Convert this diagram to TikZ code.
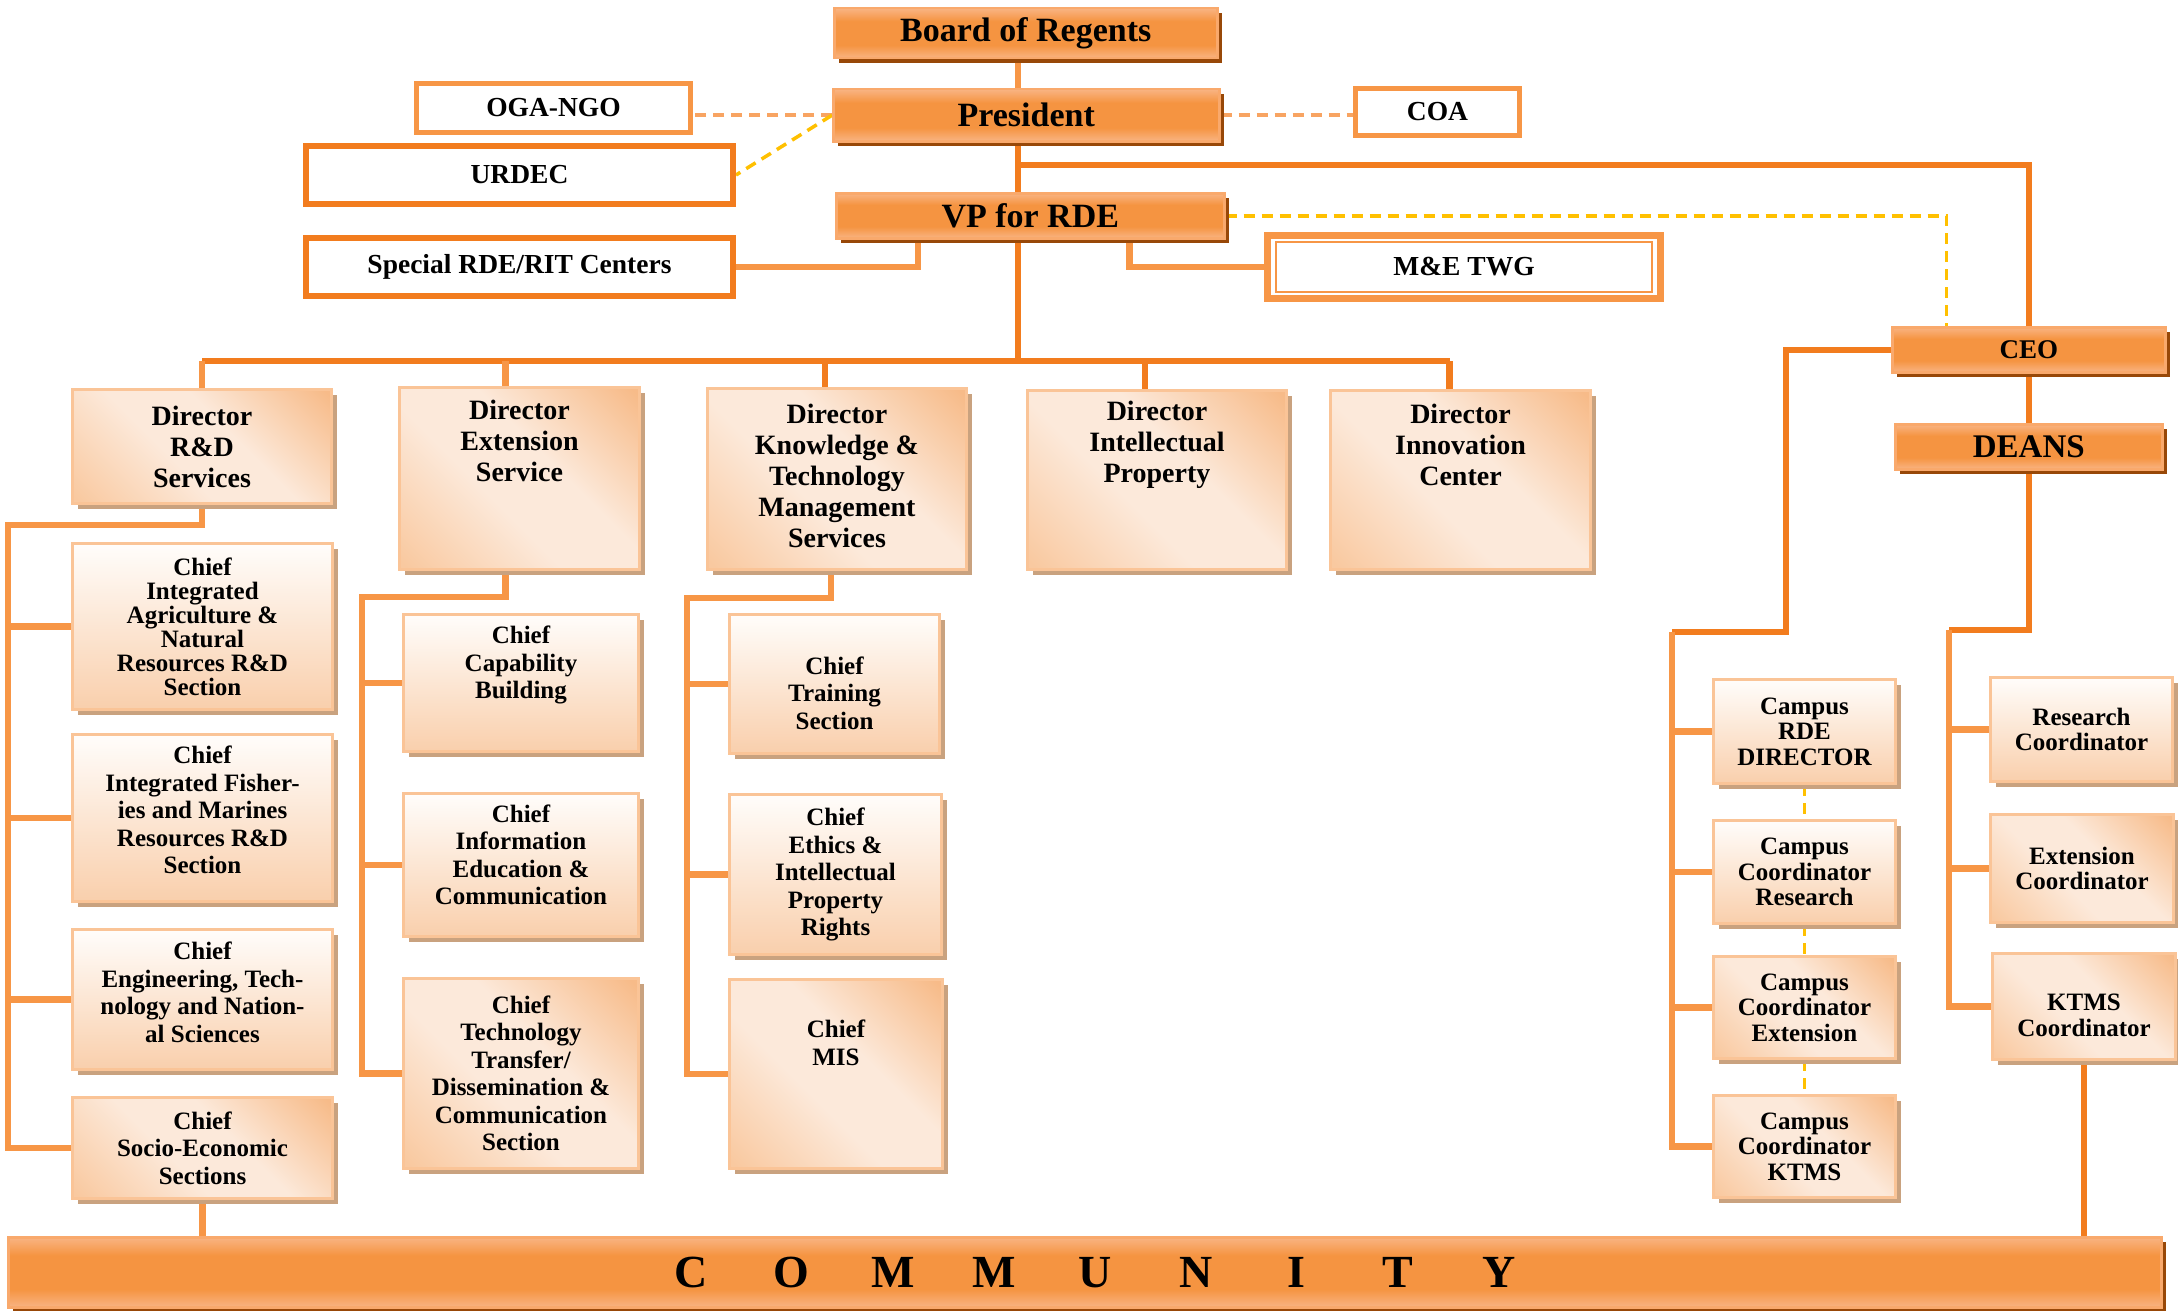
\documentclass[tikz,border=0pt]{standalone}
\usepackage{fontspec}
\setmainfont{Liberation Serif}
\usetikzlibrary{shadows}

% palette
\definecolor{orTop}{HTML}{F9B483}
\definecolor{orMid}{HTML}{F59441}
\definecolor{orEdge}{HTML}{F9A96C}
\definecolor{orShadow}{HTML}{984808}
\definecolor{pkLight}{HTML}{FCE9DA}
\definecolor{pkDark}{HTML}{F7BB89}
\definecolor{pkMid}{HTML}{F9C9A0}
\definecolor{pkTop}{HTML}{FFFDFB}
\definecolor{pkBottom}{HTML}{F9CFAC}
\definecolor{pkEdge}{HTML}{FAC497}
\definecolor{pkShadow}{HTML}{C9A27F}
\definecolor{lineLight}{HTML}{F79646}
\definecolor{lineDark}{HTML}{F27C1E}
\definecolor{dashOrange}{HTML}{F8A462}
\definecolor{dashGold}{HTML}{FFC000}

% orange bars: light rim at top and bottom, solid orange core
\pgfdeclareverticalshading{orbar}{100bp}{color(0bp)=(orTop); color(25bp)=(orTop); color(38bp)=(orMid); color(62bp)=(orMid); color(75bp)=(orTop); color(100bp)=(orTop)}
% peach plates with a light diagonal band
\pgfdeclarehorizontalshading{peachdiag}{100bp}{color(0bp)=(pkMid); color(16bp)=(pkMid); color(42bp)=(pkLight); color(58bp)=(pkLight); color(84bp)=(pkDark); color(100bp)=(pkDark)}

\pgfdeclarelayer{wires}
\pgfsetlayers{wires,main}

% #1 plate style, #2 text style, #3 name, #4-#7 corners x1,y1,x2,y2, #8 text lift, #9 text
\newcommand\orgbox[9]{%
  \node[#1, anchor=north west, minimum width=#6-#4, minimum height=#7-#5] (#3) at (#4,#5) {};%
  \node[#2] (#3-t) at ([yshift=#8]#3.center) {#9};%
}

\begin{document}
\begin{tikzpicture}[x=1pt, y=-1pt,
  bar/.style={draw=orEdge, line width=2.5pt, shade, shading=orbar, inner sep=0pt,
    drop shadow={shadow xshift=5pt, shadow yshift=-5pt, fill=orShadow, opacity=1}},
  plate/.style={draw=pkEdge, line width=3pt, inner sep=0pt,
    drop shadow={shadow xshift=5pt, shadow yshift=-5pt, fill=pkShadow, opacity=1}},
  vgrad/.style={plate, top color=pkTop, bottom color=pkBottom},
  diag/.style={plate, shade, shading=peachdiag, shading angle=45},
  wbox/.style={draw=lineDark, line width=6pt, fill=white, inner sep=0pt,
    font=\fontsize{27.5}{30}\selectfont\bfseries},
  dtxt/.style={align=center, inner sep=0pt, font=\fontsize{28}{31}\selectfont\bfseries},
  ctxt/.style={align=center, inner sep=0pt, font=\fontsize{25}{27.5}\selectfont\bfseries},
  ctight/.style={ctxt, font=\fontsize{25}{24}\selectfont\bfseries},
  ktxt/.style={align=center, inner sep=0pt, font=\fontsize{25}{25.5}\selectfont\bfseries},
  wire/.style={line width=6.5pt},
  lnA/.style={wire, draw=lineLight},
  lnB/.style={wire, draw=lineDark},
  dashO/.style={draw=dashOrange, line width=3.5pt, dash pattern=on 11pt off 7pt},
  dashY/.style={draw=dashGold, line width=3.5pt, dash pattern=on 11pt off 7pt}]

\begin{pgfonlayer}{wires}
  \fill[white] (0,0) rectangle (2178,1311);
\end{pgfonlayer}
\path[use as bounding box] (0,0) rectangle (2178,1311);

% ---- governing bodies ----
\node[bar, anchor=north west, minimum width=383, minimum height=50,
  font=\fontsize{34}{36}\selectfont\bfseries] (board) at (833,7) {Board of Regents};
\node[bar, anchor=north west, minimum width=386, minimum height=52,
  font=\fontsize{34}{36}\selectfont\bfseries] (pres) at (832,88) {President};
\node[bar, anchor=north west, minimum width=388, minimum height=45,
  font=\fontsize{34}{36}\selectfont\bfseries] (vp) at (835,192) {VP for RDE};
\node[bar, anchor=north west, minimum width=273, minimum height=45,
  font=\fontsize{27}{29}\selectfont\bfseries] (ceo) at (1891,326) {CEO};
\node[bar, anchor=north west, minimum width=267, minimum height=45,
  font=\fontsize{33}{35}\selectfont\bfseries] (deans) at (1894,423) {DEANS};

\node[wbox, draw=lineLight, line width=5pt, anchor=north west, minimum width=274, minimum height=49] (oga) at (414,81) {OGA-NGO};
\node[wbox, anchor=north west, minimum width=427, minimum height=58] (urdec) at (303,143) {URDEC};
\node[wbox, anchor=north west, minimum width=427, minimum height=58] (special) at (303,235) {Special RDE/RIT Centers};
\node[wbox, draw=lineLight, line width=5pt, anchor=north west, minimum width=164, minimum height=47] (coa) at (1353,86) {COA};
\node[wbox, draw=lineLight, line width=7pt, anchor=north west, minimum width=393, minimum height=63] (me) at (1264,232) {M\&E TWG};
\draw[draw=lineLight, line width=2pt] ([shift={(12pt,-10pt)}]me.north west) rectangle ([shift={(-12pt,10pt)}]me.south east);

% ---- directors ----
\orgbox{diag}{dtxt}{drd}{71}{388}{330}{502}{0pt}{Director\\R\&D\\Services}
\orgbox{diag}{dtxt}{des}{398}{386}{638}{568}{38pt}{Director\\Extension\\Service}
\orgbox{diag}{dtxt}{dkt}{706}{387}{965}{568}{3pt}{Director\\Knowledge \&\\Technology\\Management\\Services}
\orgbox{diag}{dtxt}{dip}{1026}{389}{1285}{568}{35pt}{Director\\Intellectual\\Property}
\orgbox{diag}{dtxt}{dic}{1329}{389}{1589}{568}{35pt}{Director\\Innovation\\Center}

% ---- R&D sections ----
\orgbox{vgrad}{ctight}{ianr}{71}{542}{331}{708}{0pt}{Chief\\Integrated\\Agriculture \&\\Natural\\Resources R\&D\\Section}
\orgbox{vgrad}{ctxt}{ifmr}{71}{733}{331}{900}{8pt}{Chief\\Integrated Fisher-\\ies and Marines\\Resources R\&D\\Section}
\orgbox{vgrad}{ctxt}{etns}{71}{928}{331}{1068}{7pt}{Chief\\Engineering, Tech-\\nology and Nation-\\al Sciences}
\orgbox{diag}{ctxt}{se}{71}{1096}{331}{1197}{0pt}{Chief\\Socio-Economic\\Sections}

% ---- extension sections ----
\orgbox{vgrad}{ctxt}{cb}{402}{613}{637}{750}{18pt}{Chief\\Capability\\Building}
\orgbox{vgrad}{ctxt}{iec}{402}{792}{637}{935}{10pt}{Chief\\Information\\Education \&\\Communication}
\orgbox{diag}{ctxt}{ttdc}{402}{977}{637}{1167}{0pt}{Chief\\Technology\\Transfer/\\Dissemination \&\\Communication\\Section}

% ---- knowledge & technology management sections ----
\orgbox{vgrad}{ctxt}{tr}{728}{613}{938}{752}{-9pt}{Chief\\Training\\Section}
\orgbox{vgrad}{ctxt}{eth}{728}{793}{940}{953}{0pt}{Chief\\Ethics \&\\Intellectual\\Property\\Rights}
\orgbox{diag}{ctxt}{mis}{728}{978}{941}{1167}{31pt}{Chief\\MIS}

% ---- campus units ----
\orgbox{vgrad}{ktxt}{crd}{1712}{678}{1894}{782}{0pt}{Campus\\RDE\\DIRECTOR}
\orgbox{vgrad}{ktxt}{ccr}{1712}{819}{1894}{922}{0pt}{Campus\\Coordinator\\Research}
\orgbox{diag}{ktxt}{cce}{1712}{955}{1894}{1057}{0pt}{Campus\\Coordinator\\Extension}
\orgbox{diag}{ktxt}{cck}{1712}{1094}{1894}{1196}{0pt}{Campus\\Coordinator\\KTMS}

\orgbox{vgrad}{ktxt}{rc}{1989}{676}{2171}{780}{0pt}{Research\\Coordinator}
\orgbox{diag}{ktxt}{ec}{1989}{813}{2172}{921}{0pt}{Extension\\Coordinator}
\orgbox{diag}{ktxt}{kc}{1991}{952}{2174}{1058}{-9pt}{KTMS\\Coordinator}

% ---- community ----
\node[bar, anchor=north west, minimum width=2153, minimum height=70,
  font=\fontsize{46}{48}\selectfont\bfseries] (comm) at (7,1236)
  {\hspace{20pt}\makebox[101pt]{C}\makebox[101pt]{O}\makebox[101pt]{M}\makebox[101pt]{M}\makebox[101pt]{U}\makebox[101pt]{N}\makebox[101pt]{I}\makebox[101pt]{T}\makebox[101pt]{Y}};

% ---- connectors ----
\begin{pgfonlayer}{wires}
  \coordinate (spine) at (1018,0);
  \coordinate (pceo) at (1018,165);
  \coordinate (bus) at (1018,361);
  \coordinate (c1) at (8,525);
  \coordinate (c2) at (362,597);
  \coordinate (c3) at (687,598);
  \coordinate (lbus) at (1786,632);
  \coordinate (lsp) at (1672,632);
  \coordinate (rsp) at (1949,630);

  \draw[lnA] (board.south -| spine) -- (pres.north -| spine);
  \draw[lnB] (pres.south -| spine) -- (vp.north -| spine);
  \draw[lnB] (pceo) -| (ceo.north);
  \draw[lnB] (ceo.south) -- (deans.north);

  \draw[dashO] (pres.west) -- (pres.west -| oga.east);
  \draw[dashO] (pres.east) -- (pres.east -| coa.west);
  \draw[dashY] (pres.west) -- (urdec.east);
  \draw[dashY] (vp.east) -| ([xshift=-82.5pt]ceo.north);

  \draw[lnA] ([xshift=83pt]vp.south west) |- (special.east);
  \draw[lnA] ([xshift=-96pt]vp.south east) |- (me.west);

  \draw[lnB] (vp.south -| spine) -- (bus);
  \draw[lnB] (drd.north |- bus) -- ([xshift=-11pt]dic.north |- bus);
  \draw[lnA] (drd.north) -- (drd.north |- bus);
  \draw[lnA] ([xshift=-14pt]des.north) -- ([xshift=-14pt]des.north |- bus);
  \draw[lnB] ([xshift=-12pt]dkt.north) -- ([xshift=-12pt]dkt.north |- bus);
  \draw[lnB] ([xshift=-12pt]dip.north) -- ([xshift=-12pt]dip.north |- bus);
  \draw[lnB] ([xshift=-11pt]dic.north) -- ([xshift=-11pt]dic.north |- bus);

  \draw[lnA] (drd.south) |- (c1) |- (se.west);
  \foreach \n in {ianr,ifmr,etns} \draw[lnA] (c1 |- \n.west) -- (\n.west);

  \draw[lnA] ([xshift=-14pt]des.south) |- (c2) |- (ttdc.west);
  \foreach \n in {cb,iec} \draw[lnA] (c2 |- \n.west) -- (\n.west);

  \draw[lnA] ([xshift=-6pt]dkt.south) |- (c3) |- (mis.west);
  \foreach \n in {tr,eth} \draw[lnA] (c3 |- \n.west) -- (\n.west);

  \draw[lnB] (ceo.west) -| (lbus) -- (lsp);
  \draw[lnA] (lsp) |- (cck.west);
  \foreach \n in {crd,ccr,cce} \draw[lnA] (lsp |- \n.west) -- (\n.west);
  \draw[dashY] (crd.south) -- (ccr.north);
  \draw[dashY] (ccr.south) -- (cce.north);
  \draw[dashY] (cce.south) -- (cck.north);

  \draw[lnB] (deans.south) |- (rsp);
  \draw[lnA] (rsp) |- (kc.west);
  \foreach \n in {rc,ec} \draw[lnA] (rsp |- \n.west) -- (\n.west);

  \draw[lnA] (se.south) -- (se.south |- comm.north);
  \draw[lnB] (kc.south) -- (kc.south |- comm.north);
\end{pgfonlayer}
\end{tikzpicture}
\end{document}
